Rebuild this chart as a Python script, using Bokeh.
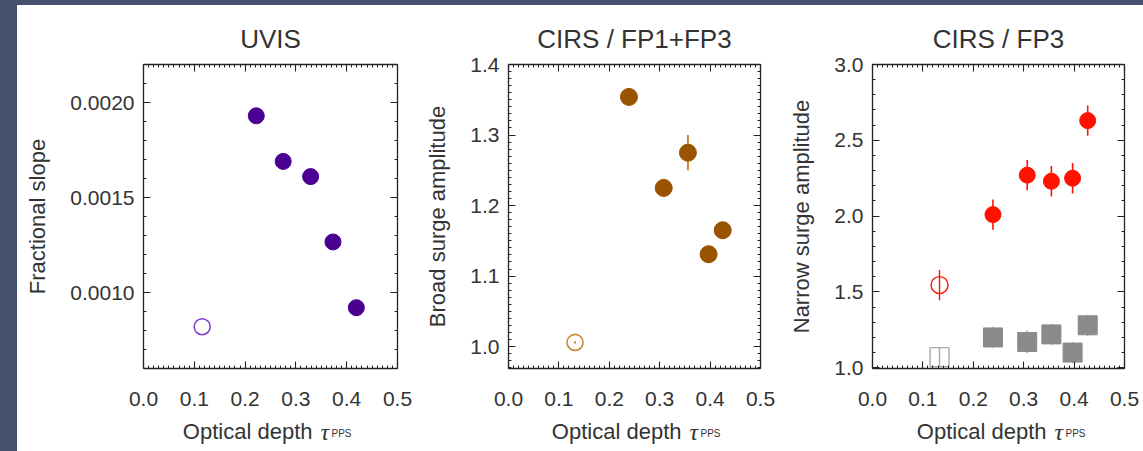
import re

from bokeh.plotting import figure
from bokeh.layouts import row, column
from bokeh.models import (Range1d, LinearAxis, FixedTicker, PrintfTickFormatter,
                          ColumnDataSource)
from bokeh.core.properties import value
from bokeh.embed import file_html
from bokeh.resources import INLINE
import numpy as np

# ---- data -------------------------------------------------------------
x_ticks = [0.0, 0.1, 0.2, 0.3, 0.4, 0.5]

# UVIS fractional slope vs optical depth
uvis_tau = [0.222, 0.275, 0.329, 0.373, 0.419]
uvis_slope = [0.00193, 0.00169, 0.00161, 0.001266, 0.00092]
uvis_tau_open = [0.1155]
uvis_slope_open = [0.00082]
uvis_ticks = [0.0010, 0.0015, 0.0020]

# CIRS FP1+FP3 broad surge amplitude
broad_tau = [0.239, 0.308, 0.356, 0.397, 0.425]
broad_amp = [1.354, 1.225, 1.275, 1.131, 1.165]
broad_err = [0.004, 0.013, 0.025, 0.005, 0.005]
broad_tau_open = [0.132]
broad_amp_open = [1.006]
broad_err_open = [0.0015]
broad_ticks = [1.0, 1.1, 1.2, 1.3, 1.4]

# CIRS FP3 narrow surge amplitude (red) and reference amplitude (grey)
narrow_tau = [0.239, 0.307, 0.355, 0.397, 0.427]
narrow_amp = [2.01, 2.27, 2.23, 2.25, 2.63]
narrow_err = [0.10, 0.10, 0.10, 0.10, 0.10]
narrow_tau_open = [0.133]
narrow_amp_open = [1.545]
narrow_err_open = [0.10]
grey_amp = [1.20, 1.17, 1.22, 1.10, 1.28]
grey_err = [0.07, 0.075, 0.07, 0.07, 0.07]
grey_amp_open = [1.07]
grey_err_open = [0.06]
narrow_ticks = [1.0, 1.5, 2.0, 2.5, 3.0]

# ---- styling ----------------------------------------------------------
FONT = "Liberation Sans"
TXT = "#333333"
AX = "#222222"
PURPLE = "#4B0092"
PURPLE_LT = "#7F3FCF"
BROWN = "#9A5300"
BROWN_LT = "#C98A33"
RED = "#FF1200"
GREY = "#8A8A8A"
GREY_LT = "#A8A8A8"
BG = "#45516F"

MAIN_H = 415      # plot panels
XLAB_H = 31       # strip holding the x-axis title under each panel


def style_axis(ax, labels):
    ax.axis_line_color = AX
    ax.axis_line_width = 1.3
    ax.major_tick_line_color = AX
    ax.minor_tick_line_color = AX
    ax.major_tick_in = 7
    ax.major_tick_out = 0
    ax.minor_tick_in = 3
    ax.minor_tick_out = 0
    ax.major_tick_line_width = 1.1
    ax.minor_tick_line_width = 1.0
    if labels:
        ax.major_label_text_font = FONT
        ax.major_label_text_font_size = "21px"
        ax.major_label_text_color = TXT
    else:
        # tick marks only on the top and right edges
        ax.major_label_text_color = None
        ax.major_label_text_font_size = "0px"
        ax.major_label_standoff = 0


def make_panel(title, ylabel, yrange, yticks, yminor, yfmt, width, left, right):
    p = figure(width=width, height=MAIN_H, x_range=Range1d(0.0, 0.5),
               y_range=Range1d(*yrange), output_backend="svg",
               toolbar_location=None, min_border_left=left,
               min_border_right=right, min_border_top=59,
               min_border_bottom=52, x_axis_type=None, y_axis_type=None)
    p.background_fill_color = "white"
    p.border_fill_color = "white"
    p.outline_line_color = None
    p.grid.visible = False

    p.title.text = title
    p.title.align = "center"
    p.title.text_font = FONT
    p.title.text_font_size = "26px"
    p.title.text_font_style = "normal"
    p.title.text_color = TXT
    p.title.standoff = 21

    xminor = list(np.round(np.arange(0.0, 0.5001, 0.01), 3))
    for side, lab in (("below", True), ("above", False)):
        ax = LinearAxis(ticker=FixedTicker(ticks=x_ticks, minor_ticks=xminor),
                        formatter=PrintfTickFormatter(format="%.1f"))
        style_axis(ax, lab)
        if lab:
            ax.major_label_standoff = 23
        p.add_layout(ax, side)

    for side, lab in (("left", True), ("right", False)):
        ax = LinearAxis(ticker=FixedTicker(ticks=yticks, minor_ticks=yminor),
                        formatter=PrintfTickFormatter(format=yfmt))
        style_axis(ax, lab)
        if lab:
            ax.axis_label = ylabel
            ax.axis_label_text_font = FONT
            ax.axis_label_text_font_size = "22px"
            ax.axis_label_text_font_style = "normal"
            ax.axis_label_text_color = TXT
            ax.axis_label_standoff = 17
            ax.major_label_standoff = 9
        p.add_layout(ax, side)
    return p


def xlabel_strip(width, left, right, shift):
    """Strip under a panel with 'Optical depth' + italic tau + small PPS."""
    s = figure(width=width, height=XLAB_H, x_range=Range1d(0.0, 0.5),
               y_range=Range1d(0, XLAB_H), output_backend="svg",
               toolbar_location=None, min_border_left=left,
               min_border_right=right, min_border_top=0, min_border_bottom=0,
               x_axis_type=None, y_axis_type=None)
    s.background_fill_color = "white"
    s.border_fill_color = "white"
    s.outline_line_color = None
    s.grid.visible = False
    s.text(x=[0.25], y=[20], text=["Optical depth"], x_offset=shift,
           text_align="right", text_baseline="alphabetic",
           text_font=value(FONT), text_font_size="22px", text_color=TXT)
    s.text(x=[0.25], y=[20], text=["τ"], x_offset=shift + 8,
           text_align="left", text_baseline="alphabetic",
           text_font=value("Liberation Serif"), text_font_style="italic",
           text_font_size="24px", text_color=TXT)
    s.text(x=[0.25], y=[18], text=["PPS"], x_offset=shift + 19,
           text_align="left", text_baseline="alphabetic",
           text_font=value(FONT), text_font_size="10px", text_color=TXT)
    return s


# ---- panel 1: UVIS ----------------------------------------------------
uv_minor = list(np.round(np.arange(0.0006, 0.00221, 0.0001), 5))
p1 = make_panel("UVIS", "Fractional slope", (0.0006, 0.0022), uvis_ticks,
                uv_minor, "%.4f", 396, 126, 16)
p1.scatter(uvis_tau, uvis_slope, marker="circle", size=16,
           fill_color=PURPLE, line_color=PURPLE)
p1.scatter(uvis_tau_open, uvis_slope_open, marker="circle", size=16,
           fill_color=None, line_color=PURPLE_LT, line_width=1.6)

# ---- panel 2: CIRS FP1+FP3 -------------------------------------------
br_minor = list(np.round(np.arange(0.97, 1.4001, 0.01), 3))
p2 = make_panel("CIRS / FP1+FP3", "Broad surge amplitude", (0.969, 1.4),
                broad_ticks, br_minor, "%.1f", 372, 95, 25)
bsrc = ColumnDataSource(dict(x=broad_tau, y=broad_amp,
                             lo=np.subtract(broad_amp, broad_err),
                             hi=np.add(broad_amp, broad_err)))
p2.segment(x0="x", y0="lo", x1="x", y1="hi", source=bsrc,
           line_color=BROWN_LT, line_width=2)
p2.scatter("x", "y", source=bsrc, marker="circle", size=17,
           fill_color=BROWN, line_color=BROWN)
bo = ColumnDataSource(dict(x=broad_tau_open, y=broad_amp_open,
                           lo=np.subtract(broad_amp_open, broad_err_open),
                           hi=np.add(broad_amp_open, broad_err_open)))
p2.segment(x0="x", y0="lo", x1="x", y1="hi", source=bo,
           line_color=BROWN_LT, line_width=2)
p2.scatter("x", "y", source=bo, marker="circle", size=16,
           fill_color=None, line_color=BROWN_LT, line_width=1.6)

# ---- panel 3: CIRS FP3 -----------------------------------------------
na_minor = list(np.round(np.arange(1.0, 3.0001, 0.1), 2))
p3 = make_panel("CIRS / FP3", "Narrow surge amplitude", (0.995, 3.0),
                narrow_ticks, na_minor, "%.1f", 358, 87, 19)

gsrc = ColumnDataSource(dict(x=narrow_tau, y=grey_amp,
                             lo=np.subtract(grey_amp, grey_err),
                             hi=np.add(grey_amp, grey_err)))
p3.segment(x0="x", y0="lo", x1="x", y1="hi", source=gsrc,
           line_color=GREY_LT, line_width=1.5)
p3.scatter("x", "y", source=gsrc, marker="square", size=19,
           fill_color=GREY, line_color=GREY)
go = ColumnDataSource(dict(x=narrow_tau_open, y=grey_amp_open,
                           lo=np.subtract(grey_amp_open, grey_err_open),
                           hi=np.add(grey_amp_open, grey_err_open)))
p3.scatter("x", "y", source=go, marker="square", size=19,
           fill_color=None, line_color=GREY_LT, line_width=1.4)
p3.segment(x0="x", y0="lo", x1="x", y1="hi", source=go,
           line_color=GREY_LT, line_width=1.4)

nsrc = ColumnDataSource(dict(x=narrow_tau, y=narrow_amp,
                             lo=np.subtract(narrow_amp, narrow_err),
                             hi=np.add(narrow_amp, narrow_err)))
p3.segment(x0="x", y0="lo", x1="x", y1="hi", source=nsrc,
           line_color=RED, line_width=1.6)
p3.scatter("x", "y", source=nsrc, marker="circle", size=16,
           fill_color=RED, line_color=RED)
no = ColumnDataSource(dict(x=narrow_tau_open, y=narrow_amp_open,
                           lo=np.subtract(narrow_amp_open, narrow_err_open),
                           hi=np.add(narrow_amp_open, narrow_err_open)))
p3.segment(x0="x", y0="lo", x1="x", y1="hi", source=no,
           line_color=RED, line_width=1.4)
p3.scatter("x", "y", source=no, marker="circle", size=17,
           fill_color=None, line_color=RED, line_width=1.4)

# ---- x-axis titles ------------------------------------------------------
s1 = xlabel_strip(396, 126, 16, 42)
s2 = xlabel_strip(372, 95, 25, 47)
s3 = xlabel_strip(358, 87, 19, 48)

white = {"background-color": "white"}
layout = column(row(p1, p2, p3, spacing=0, styles=white),
                row(s1, s2, s3, spacing=0, styles=white),
                spacing=0, styles=white)

html = file_html(layout, INLINE, title="Optical depth")
page_css = ("<style>html, body { background-color: %s !important; } "
            "body { margin: 0 !important; padding: 5px 0 0 17px !important; }"
            "</style>" % BG)
html = html.replace("</head>", page_css + "</head>", 1)
html = re.sub(r"<body([^>]*)>",
              r'<body\1 style="margin:0;padding:5px 0 0 17px;background-color:%s;">' % BG,
              html, count=1)
open("out.html", "w").write(html)
